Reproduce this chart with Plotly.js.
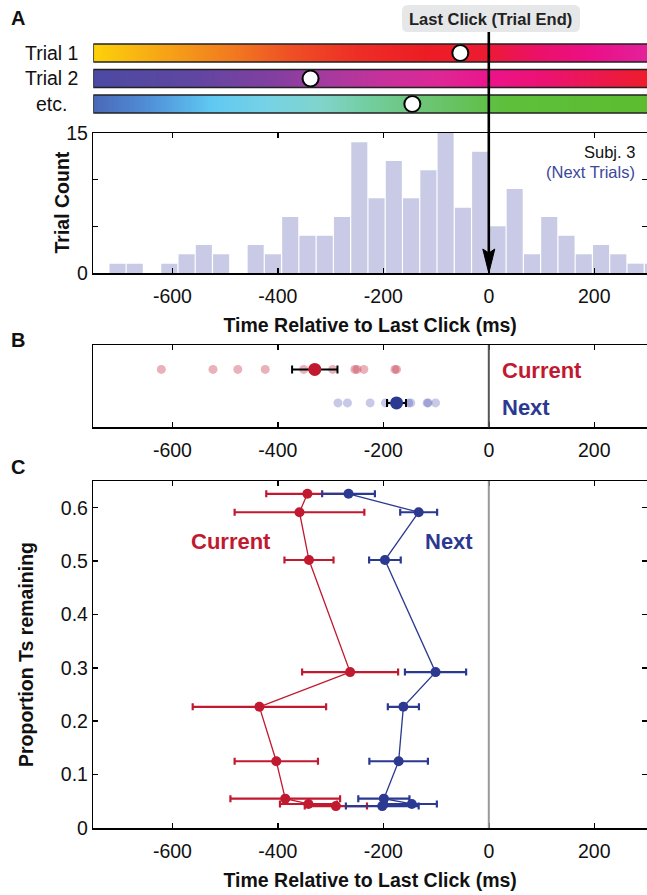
<!DOCTYPE html>
<html><head><meta charset="utf-8">
<script src="https://cdn.plot.ly/plotly-3.0.1.min.js"></script>
<style>html,body{margin:0;padding:0;background:#fff;} #chart{width:647px;height:895px;}</style>
</head><body><div id="chart"></div>
<script>
// ---------------- data ----------------
const trialLabels = ['Trial 1', 'Trial 2', 'etc.'];
const trialRows = [0, 1, 2];
const trialClickTimes = [-54, -338, -145];

const histBinCenters = [-704.1, -671.4, -638.6, -605.9, -573.1, -540.4, -507.6, -474.9, -442.1, -409.4,
  -376.6, -343.9, -311.1, -278.4, -245.6, -212.9, -180.1, -147.4, -114.6, -81.9,
  -49.1, -16.4, 16.4, 49.1, 81.9, 114.6, 147.4, 180.1, 212.9, 245.6, 278.4, 311.1];
const histCounts = [1, 1, 0, 1, 2, 3, 2, 0, 3, 2,
  6, 4, 4, 6, 14, 8, 12, 8, 11, 15,
  7, 13, 5, 9, 2, 6, 4, 2, 3, 2, 1, 1];
const histBinWidth = 32.75;

const currentTrialTimes = [-621, -523, -476, -424, -351, -296, -254, -250, -237, -178, -175];
const nextTrialTimes = [-286, -268, -225, -196, -170, -152, -148, -117, -115, -101];
const currentMean = [-330], currentSem = [43];
const nextMean = [-175], nextSem = [18];

const propRemaining = [0.626, 0.5915, 0.502, 0.292, 0.227, 0.125, 0.055, 0.045, 0.041];
const currentByProp = [-344, -359, -341, -263, -435, -403, -386, -342, -290];
const currentByPropErr = [78, 123, 46.5, 91, 126.5, 79, 104, 54, 59];
const nextByProp = [-266, -133, -197, -101, -162, -171, -199, -146, -202];
const nextByPropErr = [50, 35, 30, 58, 29.5, 55.5, 48.5, 47.5, 69];

const timeTicks = [-600, -400, -200, 0, 200];
const timeTickText = ['-600', '-400', '-200', '0', '200'];
const countTicks = [0, 5, 10, 15];
const countTickText = ['0', '', '', '15'];
const propTicks = [0, 0.1, 0.2, 0.3, 0.4, 0.5, 0.6];
const propTickText = ['0', '0.1', '0.2', '0.3', '0.4', '0.5', '0.6'];

// ---------------- styles ----------------
const W = 647, H = 895;
const px = v => v / W;
const py = v => 1 - v / H;
const FONT = 'Liberation Sans, Arial, Helvetica, sans-serif';
const RED = '#c1192f', BLUE = '#2b3990';
const trialScales = [
  [[0,'#fcd20a'],[0.13,'#f6a316'],[0.25,'#f27a20'],[0.36,'#ef4e24'],[0.48,'#ee2d26'],[0.6,'#ed1c24'],[0.7,'#ed1b30'],[0.8,'#ec1068'],[0.9,'#ec0f88'],[1,'#e2229a']],
  [[0,'#4b4aa2'],[0.18,'#6046a1'],[0.33,'#843fa0'],[0.42,'#a63a9e'],[0.52,'#c6319b'],[0.62,'#dd2896'],[0.72,'#ec138a'],[0.82,'#ec1270'],[0.91,'#ec184e'],[1,'#ee1c2c']],
  [[0,'#4a69b8'],[0.1,'#5090d8'],[0.21,'#5fc8f2'],[0.31,'#76d2e6'],[0.41,'#80d4cc'],[0.5,'#72cd9e'],[0.58,'#6dc67c'],[0.66,'#66c25e'],[0.74,'#5ebf3c'],[1,'#5cbd30']]
];
const halfBar = 0.353;

const traces = [];
// Panel A: gradient trial bars
trialRows.forEach((r, i) => {
  traces.push({
    type: 'heatmap', xaxis: 'x', yaxis: 'y',
    x: [-750, 300], y: [r - halfBar, r, r + halfBar],
    z: [[0, 1], [0, 1]], zsmooth: 'best', zmin: 0, zmax: 1,
    colorscale: trialScales[i], showscale: false, hoverinfo: 'skip'
  });
});
traces.push({
  type: 'scatter', mode: 'markers', xaxis: 'x', yaxis: 'y',
  x: trialClickTimes, y: trialRows, cliponaxis: false,
  marker: {size: 16, color: 'white', line: {color: 'black', width: 2}}, hoverinfo: 'skip'
});
// Panel A: histogram
traces.push({
  type: 'bar', xaxis: 'x2', yaxis: 'y2',
  x: histBinCenters, y: histCounts, width: histBinWidth * 0.93,
  marker: {color: '#c9cbe6', line: {width: 0}}, hoverinfo: 'skip'
});
// Panel B
traces.push({
  type: 'scatter', mode: 'markers', xaxis: 'x3', yaxis: 'y3',
  x: currentTrialTimes, y: currentTrialTimes.map(() => 2),
  marker: {size: 9, color: 'rgba(200,60,80,0.4)'}, hoverinfo: 'skip'
});
traces.push({
  type: 'scatter', mode: 'markers', xaxis: 'x3', yaxis: 'y3',
  x: nextTrialTimes, y: nextTrialTimes.map(() => 1),
  marker: {size: 9, color: 'rgba(70,76,175,0.3)'}, hoverinfo: 'skip'
});
traces.push({
  type: 'scatter', mode: 'markers', xaxis: 'x3', yaxis: 'y3',
  x: currentMean, y: [2],
  error_x: {type: 'data', array: currentSem, color: 'black', thickness: 2, width: 4},
  marker: {size: 13, color: RED}, hoverinfo: 'skip'
});
traces.push({
  type: 'scatter', mode: 'markers', xaxis: 'x3', yaxis: 'y3',
  x: nextMean, y: [1],
  error_x: {type: 'data', array: nextSem, color: 'black', thickness: 2, width: 4},
  marker: {size: 13, color: BLUE}, hoverinfo: 'skip'
});
// Panel C
traces.push({
  type: 'scatter', mode: 'lines+markers', xaxis: 'x4', yaxis: 'y4',
  x: currentByProp, y: propRemaining,
  line: {color: RED, width: 1.3},
  marker: {size: 10, color: RED},
  error_x: {type: 'data', array: currentByPropErr, color: RED, thickness: 2.2, width: 3.5},
  hoverinfo: 'skip'
});
traces.push({
  type: 'scatter', mode: 'lines+markers', xaxis: 'x4', yaxis: 'y4',
  x: nextByProp, y: propRemaining,
  line: {color: BLUE, width: 1.3},
  marker: {size: 10, color: BLUE},
  error_x: {type: 'data', array: nextByPropErr, color: BLUE, thickness: 2.2, width: 3.5},
  hoverinfo: 'skip'
});

const xDom = [px(93.3), 1];
const tickFont = {family: FONT, size: 19.5, color: '#111'};
const titleFont = {family: FONT, size: 19.5, color: '#111', weight: 'bold'};
const frame = {
  showline: true, linecolor: 'black', linewidth: 1.5, mirror: 'ticks',
  ticks: 'inside', ticklen: 5, tickwidth: 1.5, tickcolor: 'black',
  showgrid: false, zeroline: false, tickfont: tickFont, fixedrange: true
};
const timeAxis = (anchor, titleText) => Object.assign({}, frame, {
  domain: xDom, range: [-750, 300], anchor: anchor,
  tickmode: 'array', tickvals: timeTicks, ticktext: timeTickText,
  ticklabelstandoff: 5,
  title: {text: titleText, font: titleFont, standoff: 12}
});

const layout = {
  width: W, height: H, margin: {l: 0, r: 0, t: 0, b: 0},
  paper_bgcolor: 'white', plot_bgcolor: 'rgba(0,0,0,0)',
  showlegend: false, font: {family: FONT, color: '#111'},
  xaxis: {domain: xDom, range: [-750, 300], anchor: 'y', visible: false, fixedrange: true},
  yaxis: {domain: [py(119.3), py(37.7)], range: [2.6, -0.6], anchor: 'x', visible: false, fixedrange: true},
  xaxis2: timeAxis('y2', 'Time Relative to Last Click (ms)'),
  yaxis2: Object.assign({}, frame, {
    domain: [py(273), py(133)], range: [0, 15], anchor: 'x2',
    tickmode: 'array', tickvals: countTicks, ticktext: countTickText
  }),
  xaxis3: timeAxis('y3', ''),
  yaxis3: {domain: [py(427.3), py(345)], range: [0.27, 2.73], anchor: 'x3',
    showline: true, mirror: true, linecolor: 'black', linewidth: 1.5,
    ticks: '', showticklabels: false, showgrid: false, zeroline: false, fixedrange: true},
  xaxis4: timeAxis('y4', 'Time Relative to Last Click (ms)'),
  yaxis4: Object.assign({}, frame, {
    domain: [py(828), py(481)], range: [0, 0.65], anchor: 'x4',
    tickmode: 'array', tickvals: propTicks, ticktext: propTickText,
    title: {text: 'Proportion Ts remaining', font: titleFont, standoff: 22}
  }),
  shapes: [],
  annotations: []
};

// trial bar outlines
trialRows.forEach(r => {
  layout.shapes.push({type: 'rect', xref: 'x', yref: 'y', x0: -750, x1: 420,
    y0: r - halfBar, y1: r + halfBar, line: {color: '#222', width: 1.5}, fillcolor: 'rgba(0,0,0,0)'});
});
// zero lines in B and C
layout.shapes.push({type: 'line', xref: 'x3', yref: 'y3 domain', x0: 0, x1: 0, y0: 0, y1: 1,
  line: {color: '#555', width: 2}});
layout.shapes.push({type: 'line', xref: 'x4', yref: 'y4 domain', x0: 0, x1: 0, y0: 0, y1: 1,
  line: {color: '#999', width: 2}});
// label box (rounded)
(function () {
  const x0 = 402, x1 = 580, y0 = 5, y1 = 32, r = 6;
  const P = (x, y) => px(x) + ',' + py(y);
  const path = 'M' + P(x0 + r, y0) + ' L' + P(x1 - r, y0) + ' Q' + P(x1, y0) + ' ' + P(x1, y0 + r) +
    ' L' + P(x1, y1 - r) + ' Q' + P(x1, y1) + ' ' + P(x1 - r, y1) +
    ' L' + P(x0 + r, y1) + ' Q' + P(x0, y1) + ' ' + P(x0, y1 - r) +
    ' L' + P(x0, y0 + r) + ' Q' + P(x0, y0) + ' ' + P(x0 + r, y0) + ' Z';
  layout.shapes.push({type: 'path', xref: 'paper', yref: 'paper', path: path,
    fillcolor: '#e6e7e8', line: {width: 0}, layer: 'below'});
})();
// arrow line from label box down to the axis (x = 0 of the time axis)
const zeroPaperX = xDom[0] + (0 - (-750)) / 1050 * (xDom[1] - xDom[0]);
layout.shapes.push({type: 'line', xref: 'paper', yref: 'paper', x0: zeroPaperX, x1: zeroPaperX,
  y0: py(32), y1: py(255), line: {color: 'black', width: 2.6}});
layout.shapes.push({type: 'path', xref: 'x2', yref: 'y2', xsizemode: 'pixel', ysizemode: 'pixel',
  xanchor: 0, yanchor: 0, path: 'M0,0 L-6,24 L0,20 L6,24 Z', fillcolor: 'black', line: {color: 'black', width: 1}});

const ann = (text, x, y, opts) => Object.assign({text: text, xref: 'paper', yref: 'paper', x: px(x), y: py(y),
  showarrow: false, xanchor: 'center', yanchor: 'middle', font: {family: FONT, size: 17, color: '#111'}}, opts || {});
layout.annotations.push(ann('<b>Last Click (Trial End)</b>', 490, 18.5, {font: {family: FONT, size: 16.5, color: '#222'}}));
layout.annotations.push(ann('<b>A</b>', 9, 18, {xanchor: 'left', font: {family: FONT, size: 20, color: '#111'}}));
layout.annotations.push(ann('<b>B</b>', 9, 340, {xanchor: 'left', font: {family: FONT, size: 20, color: '#111'}}));
layout.annotations.push(ann('<b>C</b>', 9, 467, {xanchor: 'left', font: {family: FONT, size: 20, color: '#111'}}));
layout.annotations.push(ann('<b>Trial Count</b>', 61.5, 203, {textangle: -90, font: titleFont}));
trialLabels.forEach((t, i) => {
  layout.annotations.push({text: t, xref: 'paper', yref: 'y', x: px(51.5), y: trialRows[i],
    showarrow: false, xanchor: 'center', yanchor: 'middle', font: {family: FONT, size: 19.5, color: '#111'}});
});
layout.annotations.push(ann('Subj. 3', 637, 152, {xanchor: 'right', font: {family: FONT, size: 16.5, color: '#111'}}));
layout.annotations.push(ann('(Next Trials)', 637, 172, {xanchor: 'right', font: {family: FONT, size: 16.5, color: '#3a479c'}}));
layout.annotations.push(ann('<b>Current</b>', 500, 371, {xanchor: 'left', font: {family: FONT, size: 22, color: RED}}));
layout.annotations.push(ann('<b>Next</b>', 500, 408, {xanchor: 'left', font: {family: FONT, size: 22, color: BLUE}}));
layout.annotations.push(ann('<b>Current</b>', 231, 541, {font: {family: FONT, size: 22, color: RED}}));
layout.annotations.push(ann('<b>Next</b>', 449, 541, {font: {family: FONT, size: 22, color: BLUE}}));

Plotly.newPlot('chart', traces, layout, {displayModeBar: false, staticPlot: true});
</script>
</body></html>
